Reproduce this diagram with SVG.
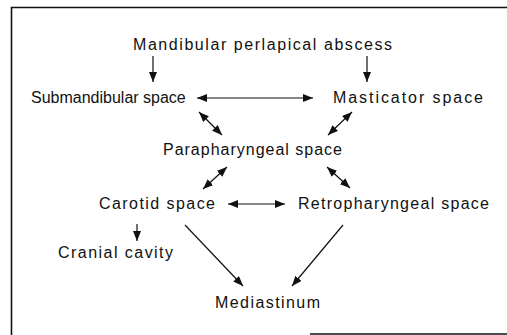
<svg xmlns="http://www.w3.org/2000/svg" width="507" height="335" viewBox="0 0 507 335">
<defs>
<style>
text{font-family:"Liberation Sans",Arial,Helvetica,sans-serif;font-size:16px;fill:#111;}
.c{stroke:#111;stroke-width:1.2;fill:none;}
.frame{stroke:#111;stroke-width:1.6;fill:none;}
</style>
<marker id="ah" viewBox="0 0 10 8" refX="10" refY="4" markerWidth="10" markerHeight="8" markerUnits="userSpaceOnUse" orient="auto-start-reverse">
<path d="M0,0 L10,4 L0,8 Z" fill="#111"/>
</marker>
</defs>
<rect width="507" height="335" fill="#fff"/>
<g id="frame">
<path class="frame" d="M11.5,335 V7.5 H507"/>
<path class="frame" d="M310,334 H507"/>
</g>
<g id="connectors">
<line class="c" x1="153" y1="56" x2="153" y2="82" marker-end="url(#ah)"/>
<line class="c" x1="367" y1="56" x2="367" y2="82" marker-end="url(#ah)"/>
<line class="c" x1="197" y1="98" x2="313" y2="98" marker-start="url(#ah)" marker-end="url(#ah)"/>
<line class="c" x1="199" y1="112" x2="222" y2="135" marker-start="url(#ah)" marker-end="url(#ah)"/>
<line class="c" x1="352" y1="112" x2="328" y2="135" marker-start="url(#ah)" marker-end="url(#ah)"/>
<line class="c" x1="227" y1="167" x2="203" y2="189" marker-start="url(#ah)" marker-end="url(#ah)"/>
<line class="c" x1="327" y1="167" x2="350" y2="188" marker-start="url(#ah)" marker-end="url(#ah)"/>
<line class="c" x1="228" y1="204" x2="285" y2="204" marker-start="url(#ah)" marker-end="url(#ah)"/>
<line class="c" x1="137" y1="224" x2="137" y2="241" marker-end="url(#ah)"/>
<line class="c" x1="185" y1="225" x2="243" y2="286" marker-end="url(#ah)"/>
<line class="c" x1="343" y1="225" x2="292" y2="286" marker-end="url(#ah)"/>
</g>
<g id="abscess"><text x="133" y="50" textLength="259" lengthAdjust="spacing">Mandibular perlapical abscess</text></g>
<g id="submandibular"><text x="31" y="103">Submandibular space</text></g>
<g id="masticator"><text x="333" y="103" textLength="150" lengthAdjust="spacing">Masticator space</text></g>
<g id="parapharyngeal"><text x="163" y="155" textLength="179" lengthAdjust="spacing">Parapharyngeal space</text></g>
<g id="carotid"><text x="99" y="209" textLength="116" lengthAdjust="spacing">Carotid space</text></g>
<g id="retropharyngeal"><text x="298" y="209" textLength="191" lengthAdjust="spacing">Retropharyngeal space</text></g>
<g id="cranial"><text x="58" y="258" textLength="115" lengthAdjust="spacing">Cranial cavity</text></g>
<g id="mediastinum"><text x="215" y="308" textLength="105" lengthAdjust="spacing">Mediastinum</text></g>
</svg>
